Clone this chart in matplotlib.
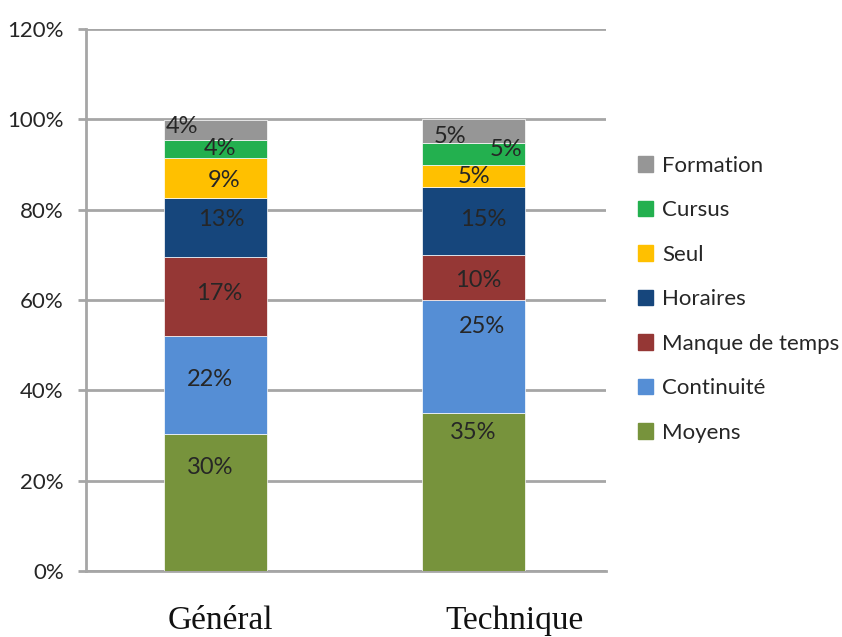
import matplotlib.pyplot as plt
import matplotlib.patches as mpatches
import numpy as np

categories = ['Général', 'Technique']
series = ['Moyens', 'Continuité', 'Manque de temps', 'Horaires', 'Seul', 'Cursus', 'Formation']

# share of answers per category (%), bottom to top
moyens     = [30.4, 34.9]
continuite = [21.7, 25.1]
manque     = [17.4, 9.9]
horaires   = [13.0, 15.0]
seul       = [8.9, 5.0]
cursus     = [4.1, 4.9]
formation  = [4.4, 5.2]

y_ticks = [0, 20, 40, 60, 80, 100, 120]

colors = ['#77933C', '#558ED5', '#953735', '#16467C', '#FFC000', '#23B04F', '#969696']

# label nudges in points (dx, dy) so the small labels don't collide
label_shift = {
    ('Général', 'Moyens'): (-4, 25), ('Général', 'Continuité'): (-4, 4),
    ('Général', 'Manque de temps'): (3, 2), ('Général', 'Horaires'): (4, 6),
    ('Général', 'Seul'): (6, -2), ('Général', 'Cursus'): (3, 0),
    ('Général', 'Formation'): (-24, 2),
    ('Technique', 'Moyens'): (0, 43), ('Technique', 'Continuité'): (6, 22),
    ('Technique', 'Manque de temps'): (3, -2), ('Technique', 'Horaires'): (7, 1),
    ('Technique', 'Seul'): (0, 0), ('Technique', 'Cursus'): (23, 3),
    ('Technique', 'Formation'): (-17, -4),
}

plt.rcParams['font.family'] = ['Lato', 'DejaVu Sans']

fig = plt.figure(figsize=(8.42, 6.37), dpi=100)
ax = fig.add_axes([0.102, 0.1036, 0.618, 0.851])

x = np.arange(len(categories))
values = [moyens, continuite, manque, horaires, seul, cursus, formation]
bottom = np.zeros(len(categories))
handles = []
for name, vals, col in zip(series, values, colors):
    vals = np.array(vals)
    bars = ax.bar(x, vals, 0.4, bottom=bottom, color=col,
                  edgecolor='white', linewidth=0.5, zorder=3)
    for i, b in enumerate(bars):
        dx, dy = label_shift[(categories[i], name)]
        ax.annotate(f'{vals[i]:.0f}%', (x[i], bottom[i] + vals[i] / 2),
                    xytext=(dx, dy), textcoords='offset points',
                    ha='center', va='center', fontsize=17, color='#262626',
                    zorder=5)
    handles.append(mpatches.Patch(color=col, label=name))
    bottom += vals

ax.set_xlim(-0.502, 1.514)
ax.set_ylim(0, 120)
ax.set_yticks(y_ticks)
ax.set_yticklabels([f'{t}%' for t in y_ticks], fontsize=16, color='#262626')
ax.set_xticks([])
ax.yaxis.grid(True, color='#A6A6A6', linewidth=2, zorder=0)
ax.tick_params(axis='y', length=6, width=2, color='#A6A6A6', pad=10)
for s in ['top', 'right']:
    ax.spines[s].set_visible(False)
for s in ['left', 'bottom']:
    ax.spines[s].set_color('#A6A6A6')
    ax.spines[s].set_linewidth(2)

# category names sit below the axis in a serif face
for xi, name, dx in zip(x, categories, [0.02, 0.16]):
    ax.text(xi + dx, -11.0, name, ha='center', va='center',
            fontsize=24, family='Liberation Serif', color='#111111')

fig.legend(handles=handles[::-1], loc='upper left',
           bbox_to_anchor=(0.752, 0.762), frameon=False, fontsize=16,
           handlelength=0.7, handleheight=0.7, handletextpad=0.4,
           labelspacing=1.1, labelcolor='#262626', borderaxespad=0,
           borderpad=0.2)

fig.savefig('out.png', dpi=100)
